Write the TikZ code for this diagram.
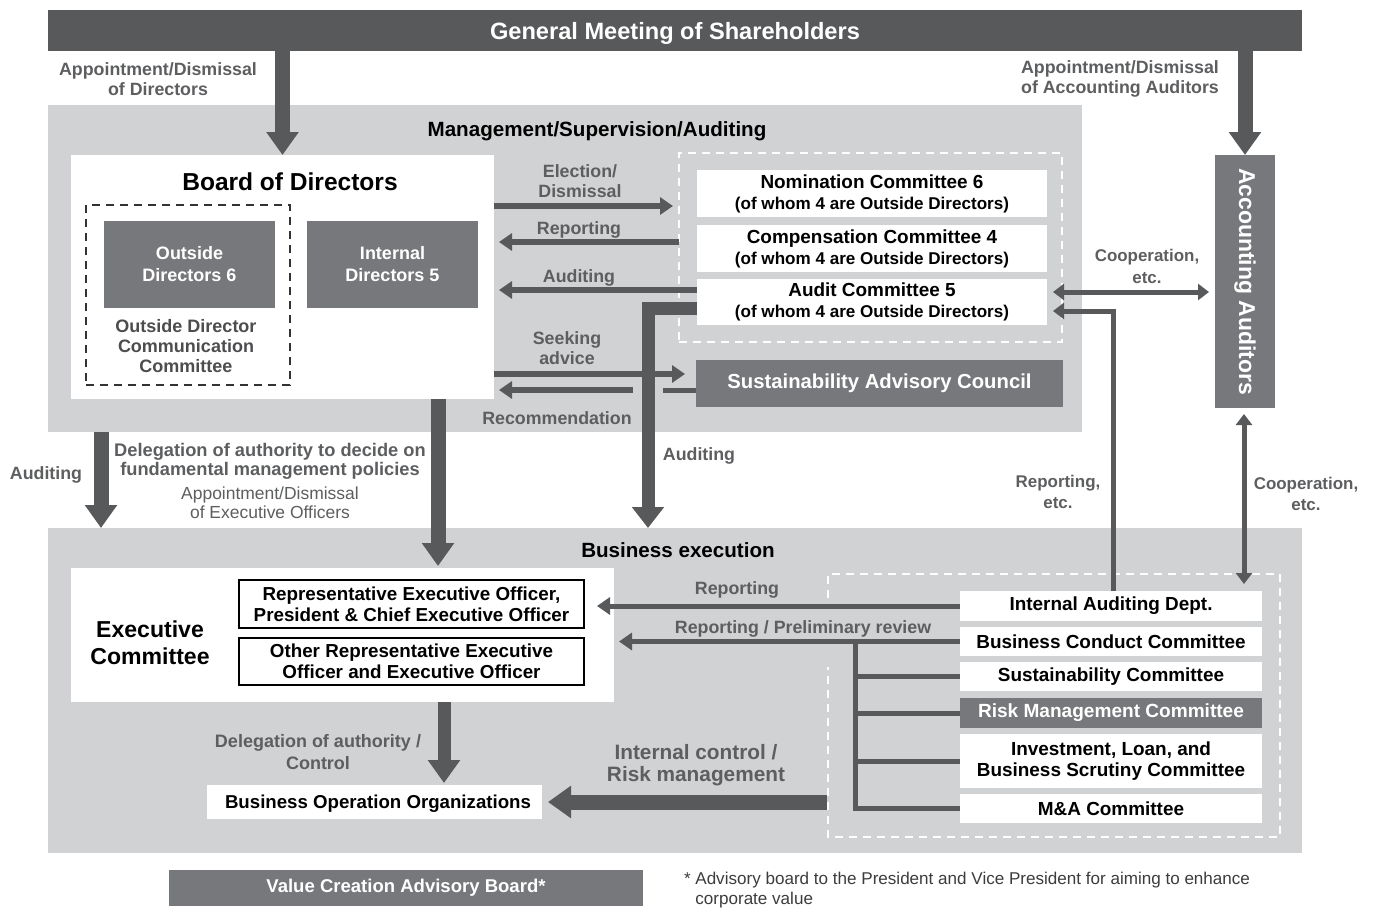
\documentclass[tikz,border=0pt]{standalone}
\usepackage{fontspec}
\setmainfont{Liberation Sans}
\usetikzlibrary{arrows.meta}
\newcommand\fsz[2]{\fontsize{#1}{#2}\selectfont}
\definecolor{dark}{RGB}{88,89,91}
\definecolor{mid}{RGB}{119,120,123}
\definecolor{panel}{RGB}{209,210,212}
\definecolor{lblc}{RGB}{93,94,96}
\definecolor{odcc}{RGB}{77,77,79}
\definecolor{notec}{RGB}{60,60,62}
\begin{document}
\begin{tikzpicture}[x=0.75pt,y=-0.75pt,
  every node/.style={outer sep=0pt},
  wh/.style 2 args={minimum width=#1*0.75pt,minimum height=#2*0.75pt},
  panelbox/.style={fill=panel,inner sep=0pt},
  darkbox/.style={fill=dark,text=white,inner sep=0pt,align=center,font=\bfseries\fsz{17.7}{21}},
  midbox/.style={fill=mid,text=white,inner sep=0pt,align=center,font=\bfseries\fsz{13.5}{16.5}},
  wbox/.style={fill=white,inner sep=0pt,align=center,font=\bfseries\fsz{14.2}{15.75}},
  rbox/.style={fill=white,draw=black,line width=1.1pt,inner sep=0pt,align=center,font=\bfseries\fsz{14.1}{15.75}},
  lbl/.style={text=lblc,inner sep=0pt,align=center,font=\bfseries\fsz{13.35}{15}},
  ttl/.style={text=black,inner sep=0pt,align=center,font=\bfseries\fsz{15.45}{18}},
  thickarr/.style={draw=dark,line width=11.25pt,-{Triangle[width=23.25pt,length=17.25pt]}},
  thinarr/.style={draw=dark,line width=4.1pt,-{Triangle[width=12.75pt,length=9.75pt]}},
  dblarr/.style={draw=dark,line width=3.75pt,{Triangle[width=12pt,length=8.25pt]}-{Triangle[width=12pt,length=8.25pt]}},
  thinline/.style={draw=dark,line width=3.75pt},
  wdash/.style={draw=white,line width=1.5pt,dash pattern=on 6pt off 4.5pt},
  ddash/.style={draw=black!80,line width=1.1pt,dash pattern=on 6pt off 4.5pt},
]
\useasboundingbox (0,0) rectangle (1378,907);

% panels
\node[panelbox, wh={1034}{327}] (mgmt) at (565,268.5) {};
\node[panelbox, wh={1254}{325}] (biz) at (675,690.5) {};
\node[darkbox, wh={1254}{41}] (gm) at (675,30.5) {};
\node[text=white, inner sep=0pt, font=\bfseries\fsz{17.7}{21}] (gmt) at (675,33) {General Meeting of Shareholders};

% management area
\node[fill=white, wh={423}{244}] (board) at (282.5,277) {};
\node[ttl, font=\bfseries\fsz{18.4}{22}] (boardt) at (290,182) {Board of Directors};
\node[ddash, wh={204}{180}] (odc) at (188,295) {};
\node[midbox, wh={171}{87}] (outd) at (189.5,264.5) {Outside\\Directors 6};
\node[midbox, wh={171}{87}] (intd) at (392.5,264.5) {Internal\\Directors 5};
\node[lbl, text=odcc, font=\bfseries\fsz{13.5}{15}] (odct) at (186,346) {Outside Director\\Communication\\Committee};

\node[wdash, wh={383}{189}] (comdash) at (870.5,247.5) {};
\node[wbox, wh={350}{47}] (nom) at (872,193.5) {Nomination Committee 6\\{\fsz{12.8}{15.75}(of whom 4 are Outside Directors)}};
\node[wbox, wh={350}{47}] (comp) at (872,248.5) {Compensation Committee 4\\{\fsz{12.8}{15.75}(of whom 4 are Outside Directors)}};
\node[wbox, wh={350}{46}] (audit) at (872,302) {Audit Committee 5\\{\fsz{12.8}{15.75}(of whom 4 are Outside Directors)}};
\node[midbox, wh={367}{47}, font=\bfseries\fsz{15.2}{18}] (sac) at (879.5,383.5) {Sustainability Advisory Council};

\node[fill=mid, wh={60}{253}] (acc) at (1245,281.5) {};
\node[text=white, inner sep=0pt, rotate=-90, font=\bfseries\fsz{17.2}{20}] (acct) at (acc.center) {Accounting Auditors};

% business execution area
\node[fill=white, wh={543}{134}] (exec) at (342.5,635) {};
\node[ttl, font=\bfseries\fsz{17.3}{20.25}] (exect) at (150,643) {Executive\\Committee};
\node[rbox, wh={345}{48}] (rep) at (411.5,604) {Representative Executive Officer,\\President \& Chief Executive Officer};
\node[rbox, wh={345}{47}] (oth) at (411.5,661.5) {Other Representative Executive\\Officer and Executive Officer};
\node[fill=white, wh={335}{34}] (boo) at (374.5,802) {};
\node[inner sep=0pt, font=\bfseries\fsz{14}{16}] (boot) at (378,803.5) {Business Operation Organizations};

\draw[wdash] (828,598) -- (828,574) -- (1280,574) -- (1280,837) -- (828,837) -- (828,667);
\node[wbox, wh={302}{30}] (iad) at (1111,606) {Internal Auditing Dept.};
\node[wbox, wh={302}{29}] (bcc) at (1111,641.5) {Business Conduct Committee};
\node[wbox, wh={302}{29}] (sc) at (1111,676.5) {Sustainability Committee};
\node[midbox, wh={302}{30}, font=\bfseries\fsz{14.3}{16}] (rmc) at (1111,713) {Risk Management Committee};
\node[wbox, wh={302}{54}] (ilb) at (1111,761) {Investment, Loan, and\\Business Scrutiny Committee};
\node[wbox, wh={302}{29}] (mac) at (1111,808.5) {M\&A Committee};

\node[midbox, wh={474}{36}, font=\bfseries\fsz{13.9}{16}] (vcab) at (406,888) {Value Creation Advisory Board*};
\node[inner sep=0pt, anchor=west, align=left, text=notec, font=\fsz{12.8}{15}] (note) at (684,890) {* Advisory board to the President and Vice President for aiming to enhance\\\phantom{* }corporate value};

% helper coordinates
\coordinate (yElec) at (0,206);
\coordinate (yRep) at (0,242);
\coordinate (yAud) at (0,290);
\coordinate (ySeek) at (0,374);
\coordinate (yRec) at (0,390);
\coordinate (gapL) at (633,390);
\coordinate (gapR) at (663,390);
\coordinate (alc) at (648,308);
\coordinate (yCoop) at (0,292);
\coordinate (reC) at (1113,311);
\coordinate (xCV) at (1244,0);
\coordinate (xA) at (101,0);
\coordinate (xD) at (438,0);
\coordinate (xEB) at (444,0);
\coordinate (icr) at (827,802);
\coordinate (tr) at (855,641);

% thick arrows
\draw[thickarr] (gm.south -| board.north) -- (board.north);
\draw[thickarr] (gm.south -| acc.north) -- (acc.north);
\draw[thickarr] (mgmt.south -| xA) -- (biz.north -| xA);
\draw[thickarr] (board.south -| xD) -- ([yshift=1.5pt]exec.north -| xD);
\draw[thickarr, line width=9.75pt] (exec.south -| xEB) -- ([yshift=1.5pt]boo.north -| xEB);
\draw[thickarr, shorten >=4.5pt] (icr) -- (boo.east);

% management thin arrows
\draw[thinarr, shorten >=4.5pt] (board.east |- yElec) -- (comdash.west |- yElec);
\draw[thinarr, shorten >=3.75pt] (comdash.west |- yRep) -- (board.east |- yRep);
\draw[thinarr, shorten >=3.75pt] (audit.west |- yAud) -- (board.east |- yAud);
\draw[thinarr, shorten >=8.25pt] (board.east |- ySeek) -- (sac.west |- ySeek);
\draw[thinline] (sac.west |- yRec) -- (gapR);
\draw[thinarr, shorten >=3.75pt] (gapL) -- (board.east |- yRec);
\draw[draw=dark, line width=9.75pt, line join=miter, -{Triangle[width=23.25pt,length=15.75pt]}] (audit.west |- alc) -| (biz.north -| alc);

% right side
\draw[dblarr, shorten <=4.5pt, shorten >=4.5pt] (audit.east |- yCoop) -- (acc.west |- yCoop);
\draw[thinline, line join=miter, -{Triangle[width=12pt,length=8.25pt]}, shorten >=4.5pt] (iad.north -| reC) |- (audit.east |- reC);
\draw[dblarr, shorten <=4.5pt, shorten >=5.25pt] (acc.south -| xCV) -- (iad.north -| xCV);

% business execution connectors
\draw[thinline, -{Triangle[width=12.75pt,length=9.75pt]}, shorten >=9.75pt] (iad.west) -- (rep.east |- iad.west);
\draw[thinline, -{Triangle[width=12.75pt,length=9.75pt]}, shorten >=3.75pt] (bcc.west) -- (exec.east |- bcc.west);
\draw[thinline, line join=miter] (tr) |- (mac.west);
\draw[thinline] (tr |- sc.west) -- (sc.west);
\draw[thinline] (tr |- rmc.west) -- (rmc.west);
\draw[thinline] (tr |- ilb.west) -- (ilb.west);

% labels
\node[lbl] (lAppD) at (158,79) {Appointment/Dismissal\\of Directors};
\node[lbl] (lAppA) at (1120,79) {Appointment/Dismissal\\of Accounting Auditors};
\node[ttl] (tMgmt) at (597,131) {Management/Supervision/Auditing};
\node[ttl] (tBiz) at (678,550) {Business execution};
\node[lbl] (lElec) at (580,181) {Election/\\Dismissal};
\node[lbl] (lRep1) at (579,230) {Reporting};
\node[lbl] (lAud1) at (579,278) {Auditing};
\node[lbl] (lSeek) at (567,348) {Seeking\\advice};
\node[lbl] (lRec) at (557,418) {Recommendation};
\node[lbl, font=\bfseries\fsz{12.7}{16.5}] (lCoop1) at (1147,266) {Cooperation,\\etc.};
\node[lbl] (lAudL) at (46,475) {Auditing};
\node[lbl, font=\bfseries\fsz{13.7}{14.25}] (lDeleg) at (270,461) {Delegation of authority to decide on\\fundamental management policies};
\node[lbl, font=\fsz{13.1}{14.25}] (lAppE) at (270,503) {Appointment/Dismissal\\of Executive Officers};
\node[lbl] (lAud2) at (699,456) {Auditing};
\node[lbl, font=\bfseries\fsz{12.7}{15.75}] (lRepEtc) at (1058,492) {Reporting,\\etc.};
\node[lbl, font=\bfseries\fsz{12.7}{15.75}] (lCoop2) at (1306,494) {Cooperation,\\etc.};
\node[lbl] (lRep2) at (737,590) {Reporting};
\node[lbl] (lPrel) at (803,629) {Reporting / Preliminary review};
\node[lbl, font=\bfseries\fsz{13.5}{16.5}] (lDel2) at (318,752) {Delegation of authority /\\Control};
\node[lbl, font=\bfseries\fsz{15.6}{16.5}] (lIC) at (696,765) {Internal control /\\Risk management};
\end{tikzpicture}
\end{document}
